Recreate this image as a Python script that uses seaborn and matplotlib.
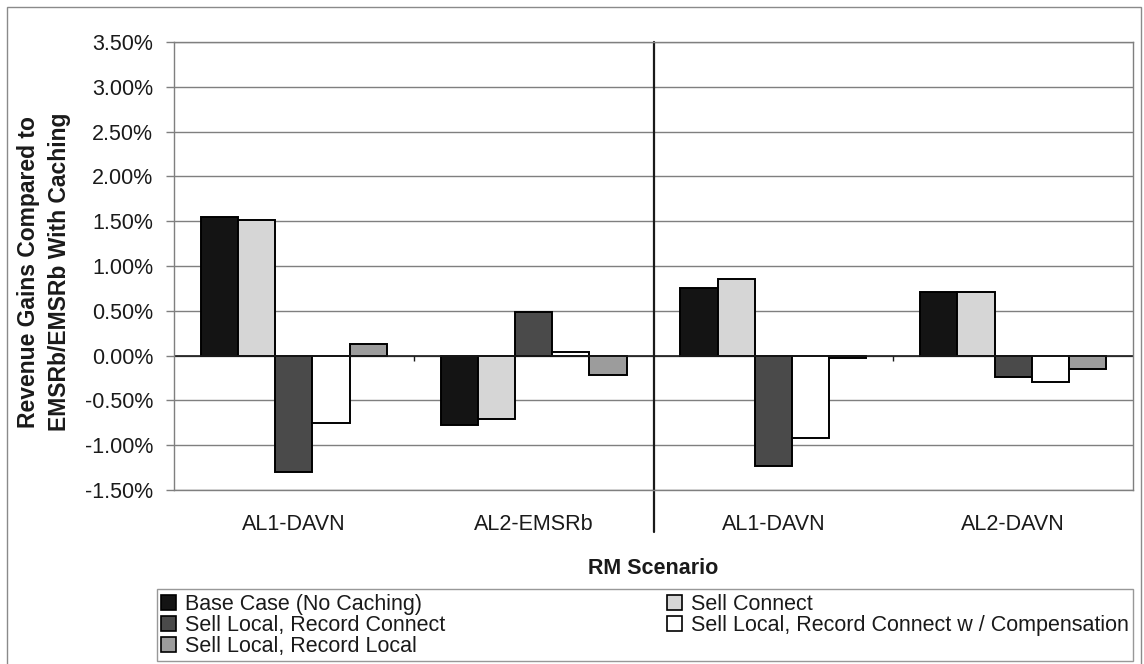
import matplotlib
matplotlib.use("Agg")
import matplotlib.pyplot as plt
from matplotlib import font_manager
from matplotlib.patches import Rectangle, Patch
from matplotlib.ticker import FuncFormatter
import seaborn as sns
import pandas as pd

# ---- data (percent) ----
scenarios = ["AL1-DAVN", "AL2-EMSRb", "AL1-DAVN", "AL2-DAVN"]
series = ["Base Case (No Caching)", "Sell Connect", "Sell Local, Record Connect",
          "Sell Local, Record Connect w / Compensation", "Sell Local, Record Local"]
base_case = [1.55, -0.78, 0.75, 0.71]
sell_connect = [1.51, -0.71, 0.85, 0.71]
record_connect = [-1.30, 0.49, -1.23, -0.24]
compensation = [-0.75, 0.04, -0.92, -0.29]
record_local = [0.13, -0.22, -0.03, -0.15]
colors = ["#141414", "#d6d6d6", "#4a4a4a", "#ffffff", "#9c9c9c"]
yticks = [-1.5, -1.0, -0.5, 0.0, 0.5, 1.0, 1.5, 2.0, 2.5, 3.0, 3.5]

values = [base_case, sell_connect, record_connect, compensation, record_local]
keys = [f"s{i}" for i in range(len(scenarios))]
rows = []
for s, vals in zip(series, values):
    for k, v in zip(keys, vals):
        rows.append({"key": k, "series": s, "value": v})
df = pd.DataFrame(rows)

sns.set_theme(style="white")
names = {f.name for f in font_manager.fontManager.ttflist}
base_font = "Liberation Sans" if "Liberation Sans" in names else "DejaVu Sans"
legend_font = "Liberation Sans Narrow" if "Liberation Sans Narrow" in names else base_font
plt.rcParams["font.family"] = [base_font, "DejaVu Sans"]

W, H = 1144, 664
fig = plt.figure(figsize=(W / 100, H / 100), dpi=100)
ax = fig.add_axes([174 / W, 1 - 490 / H, (1133 - 174) / W, (490 - 42) / H])

sns.barplot(data=df, x="key", y="value", hue="series", order=keys, hue_order=series,
            palette=colors, edgecolor="black", linewidth=1.4, width=0.775,
            saturation=1, ax=ax, legend=False)

ax.set_ylim(-1.5, 3.5)
ax.set_xlim(-0.5, len(scenarios) - 0.5)
ax.set_yticks(yticks)
ax.yaxis.set_major_formatter(FuncFormatter(lambda v, p: f"{v:.2f}%"))
ax.set_xticks(range(len(scenarios)))
ax.set_xticklabels(scenarios)
ax.set_xlabel("")
ax.set_ylabel("")
ax.grid(axis="y", color="#7f7f7f", linewidth=1.0)
ax.set_axisbelow(True)
for sp in ax.spines.values():
    sp.set_color("#7f7f7f")
    sp.set_linewidth(1.0)
ax.tick_params(axis="y", which="major", left=True, length=6, width=1, color="#7f7f7f",
               pad=9, labelsize=15.5, labelcolor="#1a1a1a")
ax.tick_params(axis="x", length=0, pad=17, labelsize=15.5, labelcolor="#1a1a1a")

# zero axis and category tick marks
ax.axhline(0, color="#1a1a1a", linewidth=1.2, zorder=1.5)
ax.vlines([0.5, len(scenarios) - 1.5], 0, -0.06, color="#1a1a1a", linewidth=1.0)
# separator line between the two halves
ax.axvline(1.5, ymin=-0.094, ymax=1.0, color="#1a1a1a", linewidth=1.6, clip_on=False)

# axis titles
fig.text(44 / W, 1 - 272 / H, "Revenue Gains Compared to\nEMSRb/EMSRb With Caching",
         rotation=90, ha="center", va="center", multialignment="center",
         fontsize=16.5, fontweight="bold", color="#1a1a1a", linespacing=1.42)
fig.text((174 + 1133) / 2 / W, 1 - 569 / H, "RM Scenario", ha="center", va="center",
         fontsize=15.5, fontweight="bold", color="#1a1a1a")

# legend (column-first order to match reference)
order = [0, 2, 4, 1, 3]
handles = [Patch(facecolor=colors[i], edgecolor="black", linewidth=1.2) for i in order]
labels = [series[i] for i in order]
leg = fig.legend(handles, labels, ncol=2, mode="expand",
                 loc="lower left",
                 bbox_to_anchor=(157 / W, 1 - 661 / H, (1133 - 157) / W, (661 - 592) / H),
                 frameon=True, fancybox=False, edgecolor="#7f7f7f",
                 prop={"family": legend_font, "size": 15.5},
                 handlelength=0.7, handleheight=0.7, handletextpad=0.4,
                 labelspacing=0.0, borderpad=0.2, borderaxespad=0.0)
leg.get_frame().set_linewidth(1.0)
for t in leg.get_texts():
    t.set_color("#1a1a1a")

# outer chart border
fig.patches.append(Rectangle((7 / W, -0.02), (1141 - 7) / W, 1 - 7 / H + 0.02,
                             transform=fig.transFigure, fill=False,
                             edgecolor="#8a8a8a", linewidth=1.0))

fig.savefig("out.png", dpi=100, facecolor="white")
